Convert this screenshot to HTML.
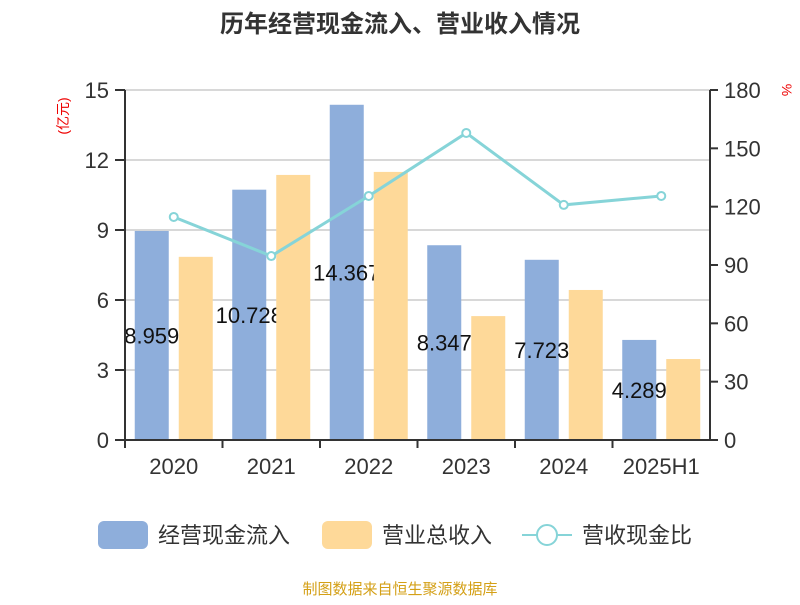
<!DOCTYPE html>
<html><head><meta charset="utf-8"><style>
body{margin:0;background:#fff;}
svg text{font-family:"Liberation Sans","Noto Sans CJK SC",sans-serif;}
</style></head><body>
<svg id="chart" width="800" height="600" xmlns="http://www.w3.org/2000/svg">
<text x="400" y="32" text-anchor="middle" font-size="24" font-weight="bold" fill="#333">历年经营现金流入、营业收入情况</text>
<text transform="translate(68,116) rotate(-90)" text-anchor="middle" font-size="14" fill="#e00">(亿元)</text>
<text transform="translate(782,90) rotate(90)" text-anchor="middle" font-size="14" fill="#e00">%</text>
<g id="grid"></g><g id="bars"></g><g id="axes"></g><g id="line"></g>
<g>
<rect x="98" y="521" width="50" height="28" rx="6" fill="#8eaedb"/>
<text x="158" y="543" font-size="22" fill="#333">经营现金流入</text>
<rect x="322" y="521" width="50" height="28" rx="6" fill="#fed999"/>
<text x="382" y="543" font-size="22" fill="#333">营业总收入</text>
<line x1="522" y1="535" x2="572" y2="535" stroke="#86d4d8" stroke-width="2"/>
<circle cx="547" cy="535" r="10" fill="#fff" stroke="#86d4d8" stroke-width="2"/>
<text x="582" y="543" font-size="22" fill="#333">营收现金比</text>
</g>
<text x="400" y="594" text-anchor="middle" font-size="15" fill="#d4a017">制图数据来自恒生聚源数据库</text>
</svg>
<script>
const categories=["2020","2021","2022","2023","2024","2025H1"];
const cashIn=[8.959,10.728,14.367,8.347,7.723,4.289];
const revenue=[7.85,11.36,11.49,5.31,6.43,3.47];
const ratio=[114.7,94.6,125.5,157.9,120.9,125.5];
const leftTicks=[0,3,6,9,12,15];
const rightTicks=[0,30,60,90,120,150,180];
const NS="http://www.w3.org/2000/svg";
const X0=125,X1=710,Y0=440,Y1=90;
const yL=v=>Y0-(v/15)*(Y0-Y1);
const yR=v=>Y0-(v/180)*(Y0-Y1);
const bw=(X1-X0)/categories.length;
const cx=i=>X0+bw*(i+0.5);
function mk(tag,attrs,parent,txt){const e=document.createElementNS(NS,tag);for(const k in attrs)e.setAttribute(k,attrs[k]);if(txt!==undefined)e.textContent=txt;document.getElementById(parent).appendChild(e);return e;}
leftTicks.forEach(t=>{
 const g=mk('line',{x1:X0,x2:X1,y1:yL(t),y2:yL(t),stroke:'#ccc','stroke-width':1.5},'grid');
 
 
 const tk=mk('line',{x1:X0-10,x2:X0,y1:yL(t),y2:yL(t),stroke:'#333','stroke-width':2},'axes');
 
 
 const tx=mk('text',{x:X0-16,y:yL(t)+8,'text-anchor':'end','font-size':22,fill:'#333'},'axes',t);
 
 
});
rightTicks.forEach(t=>{
 const tk=mk('line',{x1:X1,x2:X1+8,y1:yR(t),y2:yR(t),stroke:'#333','stroke-width':2},'axes');
 
 
 const tx=mk('text',{x:X1+14,y:yR(t)+8,'font-size':22,fill:'#333'},'axes',t);
 
 
});
let a=mk('line',{x1:X0,x2:X0,y1:Y1,y2:Y0,stroke:'#333','stroke-width':2},'axes');

a=mk('line',{x1:X1,x2:X1,y1:Y1,y2:Y0,stroke:'#333','stroke-width':2},'axes');

a=mk('line',{x1:X0,x2:X1,y1:Y0,y2:Y0,stroke:'#333','stroke-width':2},'axes');

categories.forEach((c,i)=>{
 const tk=mk('line',{x1:X0+bw*i,x2:X0+bw*i,y1:Y0,y2:Y0+8,stroke:'#333','stroke-width':2},'axes');
 
 
 const tx=mk('text',{x:cx(i),y:Y0+34,'text-anchor':'middle','font-size':22,fill:'#333'},'axes',c);
 
 
});
const barW=34;
categories.forEach((c,i)=>{
 const x=cx(i)-barW-5;
 const b=mk('rect',{x:x,y:yL(cashIn[i]),width:barW,height:Y0-yL(cashIn[i]),fill:'#8eaedb'},'bars');
 
 
 const l=mk('text',{x:x+barW/2,y:(yL(cashIn[i])+Y0)/2+8,'text-anchor':'middle','font-size':22,fill:'#111'},'bars',cashIn[i]);
 
 
});
categories.forEach((c,i)=>{
 const b=mk('rect',{x:cx(i)+5,y:yL(revenue[i]),width:barW,height:Y0-yL(revenue[i]),fill:'#fed999'},'bars');
 
 
});
const pts=ratio.map((v,i)=>cx(i)+','+yR(v)).join(' ');
const pl=mk('polyline',{points:pts,fill:'none',stroke:'#86d4d8','stroke-width':3},'line');


ratio.forEach((v,i)=>{
 const p=mk('circle',{cx:cx(i),cy:yR(v),r:4,fill:'#fff',stroke:'#86d4d8','stroke-width':2},'line');
 
 
});
</script>
</body></html>
